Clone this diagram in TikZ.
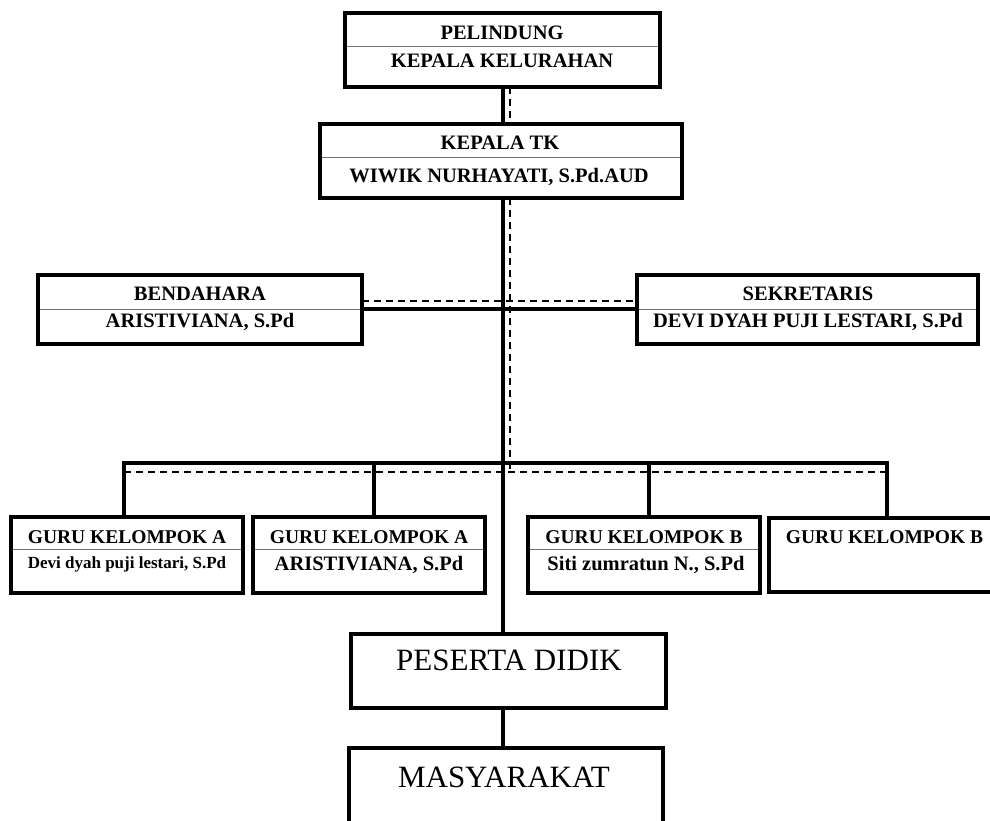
\documentclass[tikz,border=0pt]{standalone}
\usepackage{fontspec}
\setmainfont{Liberation Serif}
\usetikzlibrary{calc}
\begin{document}
\begin{tikzpicture}[x=1pt,y=-1pt,
  box/.style={draw, line width=4pt, inner sep=0pt, outer sep=0pt},
  divider/.style={line width=1pt, draw=black!55},
  conn/.style={line width=4pt},
  dconn/.style={line width=1.5pt, dash pattern=on 7pt off 5pt},
  hd/.style={anchor=base, inner sep=0pt, font=\fontsize{20.5}{22}\selectfont\bfseries},
  gh/.style={anchor=base, inner sep=0pt, font=\fontsize{19.5}{21}\selectfont\bfseries},
  sm/.style={anchor=base, inner sep=0pt, font=\fontsize{17}{19}\selectfont\bfseries},
  big/.style={anchor=base, inner sep=0pt, font=\fontsize{31}{33}\selectfont}]
\useasboundingbox (0,0) rectangle (990,821);
\fill[white] (0,0) rectangle (990,821);

% boxes
\node[box, minimum width=315pt, minimum height=74pt] (pel) at (502.5,50) {};
\node[box, minimum width=362pt, minimum height=74pt] (ktk) at (501,161) {};
\node[box, minimum width=324pt, minimum height=69pt] (ben) at (200,309.5) {};
\node[box, minimum width=341pt, minimum height=69pt] (sek) at (807.5,309.5) {};
\node[box, minimum width=232pt, minimum height=76pt] (g1) at (127,555) {};
\node[box, minimum width=232pt, minimum height=76pt] (g2) at (369,555) {};
\node[box, minimum width=232pt, minimum height=76pt] (g3) at (644,555) {};
\node[box, minimum width=231pt, minimum height=74pt] (g4) at (884.5,554.5) {};
\node[box, minimum width=315pt, minimum height=74pt] (pd) at (508.5,671) {};
\node[box, minimum width=314pt, minimum height=82pt] (mas) at (506,789) {};

% dividers
\draw[divider] ($(pel.north west)+(2,34)$) -- ($(pel.north east)+(-2,34)$);
\draw[divider] ($(ktk.north west)+(2,34)$) -- ($(ktk.north east)+(-2,34)$);
\draw[divider] ($(ben.north west)+(2,34)$) -- ($(ben.north east)+(-2,34)$);
\draw[divider] ($(sek.north west)+(2,34)$) -- ($(sek.north east)+(-2,34)$);
\draw[divider] ($(g1.north west)+(2,32)$) -- ($(g1.north east)+(-2,32)$);
\draw[divider] ($(g2.north west)+(2,32)$) -- ($(g2.north east)+(-2,32)$);
\draw[divider] ($(g3.north west)+(2,32)$) -- ($(g3.north east)+(-2,32)$);

% texts
\node[hd] (t1) at (502,40) {PELINDUNG};
\node[hd] (t2) at (502,68) {KEPALA KELURAHAN};
\node[hd] (t3) at (500,150) {KEPALA TK};
\node[hd] (t4) at (499,183) {WIWIK NURHAYATI, S.Pd.AUD};
\node[hd] (t5) at (200,300) {BENDAHARA};
\node[hd] (t6) at (200,327) {ARISTIVIANA, S.Pd};
\node[hd] (t7) at (808,300) {SEKRETARIS};
\node[hd] (t8) at (808,327) {DEVI DYAH PUJI LESTARI, S.Pd};
\node[gh] (t9) at (127,543) {GURU KELOMPOK A};
\node[sm] (t10) at (127,568) {Devi dyah puji lestari, S.Pd};
\node[gh] (t11) at (369,543) {GURU KELOMPOK A};
\node[hd] (t12) at (369,570) {ARISTIVIANA, S.Pd};
\node[gh] (t13) at (644,543) {GURU KELOMPOK B};
\node[hd] (t14) at (646,570) {Siti zumratun N., S.Pd};
\node[gh] (t15) at (884.5,543) {GURU KELOMPOK B};
\node[big] (t16) at (509,670) {PESERTA DIDIK};
\node[big] (t17) at (504,787) {MASYARAKAT};

% connector coordinates
\coordinate (sx) at (503,0);
\coordinate (dx) at (510,0);
\coordinate (hs) at (0,309);
\coordinate (hdash) at (0,301);
\coordinate (d1) at (124,463);
\coordinate (d2) at (374,463);
\coordinate (d3) at (649,463);
\coordinate (d4) at (887,463);
\coordinate (e1) at (124,472);
\coordinate (e4) at (887,472);

% solid connectors
\draw[conn] (pel.south -| sx) -- (ktk.north -| sx);
\draw[conn] (ktk.south -| sx) -- (pd.north -| sx);
\draw[conn] (ben.east |- hs) -- (sek.west |- hs);
\draw[conn] (g1.north -| d1) -- (d1) -- (d4) -- (g4.north -| d4);
\draw[conn] (d2) -- (g2.north -| d2);
\draw[conn] (d3) -- (g3.north -| d3);
\draw[conn] (pd.south -| sx) -- (mas.north -| sx);

% dashed connectors
\draw[dconn] (pel.south -| dx) -- (ktk.north -| dx);
\draw[dconn] (ktk.south -| dx) -- (e1 -| dx);
\draw[dconn] (ben.east |- hdash) -- (sek.west |- hdash);
\draw[dconn] (e1) -- (e4);
\end{tikzpicture}
\end{document}
